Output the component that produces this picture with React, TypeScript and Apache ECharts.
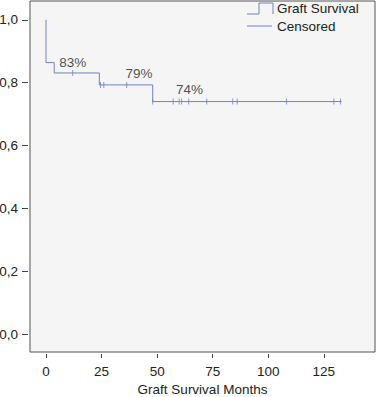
import React, { useEffect, useRef } from "react";
import * as echarts from "echarts";

const stepTimes = [0, 0, 3.7, 24, 48, 133];
const stepSurvival = [1, 0.864, 0.831, 0.793, 0.74, 0.74];

const censorTimes = [12, 24.5, 26, 36.3, 48, 57.2, 59.9, 61, 64.2, 72.3, 84, 86, 108.2, 129.5, 132.5];
const censorSurvival = [0.831, 0.793, 0.793, 0.793, 0.74, 0.74, 0.74, 0.74, 0.74, 0.74, 0.74, 0.74, 0.74, 0.74, 0.74];

const annotTexts = ["83%", "79%", "74%"];
const annotTimes = [12, 41.8, 64.6];
const annotValues = [0.863, 0.828, 0.777];

const xTicks = [0, 25, 50, 75, 100, 125];
const yTicks = [0, 0.2, 0.4, 0.6, 0.8, 1.0];

const LINE = "#7282bb";
const FONT = "'Liberation Sans', Arial, Helvetica, sans-serif";
const FS = 13.5;

export default function App() {
  const ref = useRef<HTMLDivElement>(null);
  useEffect(() => {
    document.body.style.margin = "0";
    const chart = echarts.init(ref.current!, null, { renderer: "svg" });
    chart.setOption({
      animation: false,
      backgroundColor: "#ffffff",
      textStyle: { fontFamily: FONT },
      grid: {
        left: 30,
        top: 1,
        right: 3,
        bottom: 45,
        containLabel: false,
        outerBoundsMode: "none",
        show: true,
        backgroundColor: "#f5f5f5",
        borderColor: "#555555",
        borderWidth: 1,
      },
      xAxis: {
        type: "value",
        min: -7.2,
        max: 148,
        offset: 2,
        name: "Graft Survival Months",
        nameLocation: "middle",
        nameGap: 28,
        nameTextStyle: { fontSize: FS, color: "#222", fontFamily: FONT },
        axisLine: { show: false, onZero: false },
        splitLine: { show: false },
        axisTick: { show: true, length: 4, customValues: xTicks, lineStyle: { color: "#444" } },
        axisLabel: { customValues: xTicks, fontSize: FS, color: "#222", margin: 10, fontFamily: FONT },
      },
      yAxis: {
        type: "value",
        min: -0.057,
        max: 1.06,
        offset: 2,
        axisLine: { show: false, onZero: false },
        splitLine: { show: false },
        axisTick: { show: true, length: 6, customValues: yTicks, lineStyle: { color: "#444" } },
        axisLabel: {
          customValues: yTicks,
          fontSize: FS,
          color: "#222",
          margin: 10,
          fontFamily: FONT,
          formatter: (v: number) => v.toFixed(1).replace(".", ","),
        },
      },
      series: [
        {
          type: "line",
          step: "end",
          symbol: "none",
          data: stepTimes.map((t, i) => [t, stepSurvival[i]]),
          lineStyle: { color: LINE, width: 1 },
        },
        {
          type: "scatter",
          symbol: "rect",
          symbolSize: [1, 6],
          itemStyle: { color: LINE },
          data: censorTimes.map((t, i) => [t, censorSurvival[i]]),
        },
        {
          type: "scatter",
          symbolSize: 0,
          silent: true,
          data: annotTimes.map((t, i) => ({ value: [t, annotValues[i]], name: annotTexts[i] })),
          label: {
            show: true,
            position: "inside",
            formatter: (p: any) => p.name,
            fontSize: FS,
            color: "#222",
            textBorderWidth: 0,
            fontFamily: FONT,
          },
        },
      ],
      graphic: [
        {
          type: "polyline",
          shape: { points: [[247, 14], [259, 14], [259, 3], [273, 3], [273, 14]] },
          style: { stroke: LINE, lineWidth: 1, fill: null },
        },
        {
          type: "line",
          shape: { x1: 247, y1: 26, x2: 272, y2: 26 },
          style: { stroke: LINE, lineWidth: 1 },
        },
        {
          type: "text",
          x: 277,
          y: 8.5,
          style: { text: "Graft Survival", fontSize: FS, fill: "#222", fontFamily: FONT, verticalAlign: "middle" },
        },
        {
          type: "text",
          x: 277,
          y: 26,
          style: { text: "Censored", fontSize: FS, fill: "#222", fontFamily: FONT, verticalAlign: "middle" },
        },
      ],
    });
    return () => chart.dispose();
  }, []);
  return (
    <div
      ref={ref}
      style={{ position: "absolute", left: 0, top: 0, width: 378, height: 397 }}
    />
  );
}
